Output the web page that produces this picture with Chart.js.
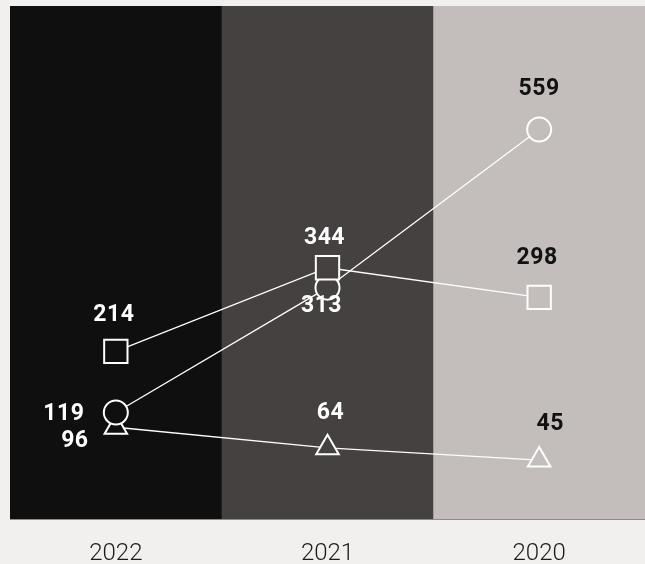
<!DOCTYPE html>
<html>
<head>
<meta charset="utf-8">
<script src="https://cdn.jsdelivr.net/npm/chart.js@4/dist/chart.umd.min.js"></script>
<style>
  html, body { margin: 0; padding: 0; background: #f1f0ee; }
  #wrap { width: 645px; height: 564px; }
</style>
</head>
<body>
<div id="wrap"><canvas id="chart"></canvas></div>
<script>
const years = ['2022', '2021', '2020'];
const squareValues = [214, 344, 298];
const circleValues = [119, 313, 559];
const triangleValues = [96, 64, 45];

const bandColors = ['#0f0f0f', '#444140', '#c3bebb'];
const labelColors = ['#ffffff', '#ffffff', '#111111'];

// label offsets from each marker, per series
const squareLabelOffsets = [[-2, -36], [-3, -29], [-2, -39]];
const circleLabelOffsets = [[-52, 2], [-6, 19], [0, -40]];
const triangleLabelOffsets = [[-41, 14], [3, -35], [11, -36]];

const bands = {
  id: 'bands',
  beforeDraw(chart) {
    const { ctx, chartArea: a } = chart;
    const w = (a.right - a.left) / years.length;
    ctx.save();
    bandColors.forEach((c, i) => {
      ctx.fillStyle = c;
      ctx.fillRect(a.left + i * w, a.top, w + 0.5, a.bottom - a.top);
    });
    ctx.restore();
  },
};

const valueLabels = {
  id: 'valueLabels',
  afterDatasetsDraw(chart) {
    const { ctx } = chart;
    ctx.save();
    ctx.font = '700 23px Roboto';
    ctx.letterSpacing = '0.5px';
    ctx.textAlign = 'center';
    ctx.textBaseline = 'middle';
    chart.data.datasets.forEach((ds, di) => {
      const meta = chart.getDatasetMeta(di);
      meta.data.forEach((pt, i) => {
        const [dx, dy] = ds.labelOffsets[i];
        ctx.fillStyle = labelColors[i];
        ctx.fillText(String(ds.data[i]), pt.x + dx, pt.y + dy);
      });
    });
    ctx.restore();
  },
};

const markerFill = (ctx) => bandColors[ctx.dataIndex];

const series = (data, style, radius, labelOffsets) => ({
  data,
  labelOffsets,
  borderColor: '#ffffff',
  borderWidth: 1.3,
  pointStyle: style,
  pointRadius: radius,
  pointHoverRadius: radius,
  pointBorderColor: '#ffffff',
  pointBorderWidth: 2,
  pointBackgroundColor: markerFill,
  tension: 0,
});

new Chart(document.getElementById('chart'), {
  type: 'line',
  data: {
    labels: years,
    datasets: [
      series(squareValues, 'rect', 16.5, squareLabelOffsets),
      series(circleValues, 'circle', 12, circleLabelOffsets),
      series(triangleValues, 'triangle', 13, triangleLabelOffsets),
    ],
  },
  options: {
    responsive: true,
    maintainAspectRatio: false,
    animation: false,
    layout: { autoPadding: false, padding: { left: 10, top: 6, right: 0, bottom: -24 } },
    plugins: {
      legend: { display: false },
      tooltip: { enabled: false },
    },
    scales: {
      x: {
        offset: true,
        grid: { display: false, drawTicks: false },
        border: { display: true, color: '#8e8b89', width: 1 },
        ticks: {
          color: '#1c1c1c',
          padding: 20,
          font: { family: 'Roboto', size: 24, weight: '300' },
        },
      },
      y: {
        display: false,
        min: -47,
        max: 751,
      },
    },
  },
  plugins: [bands, valueLabels],
});
</script>
</body>
</html>
